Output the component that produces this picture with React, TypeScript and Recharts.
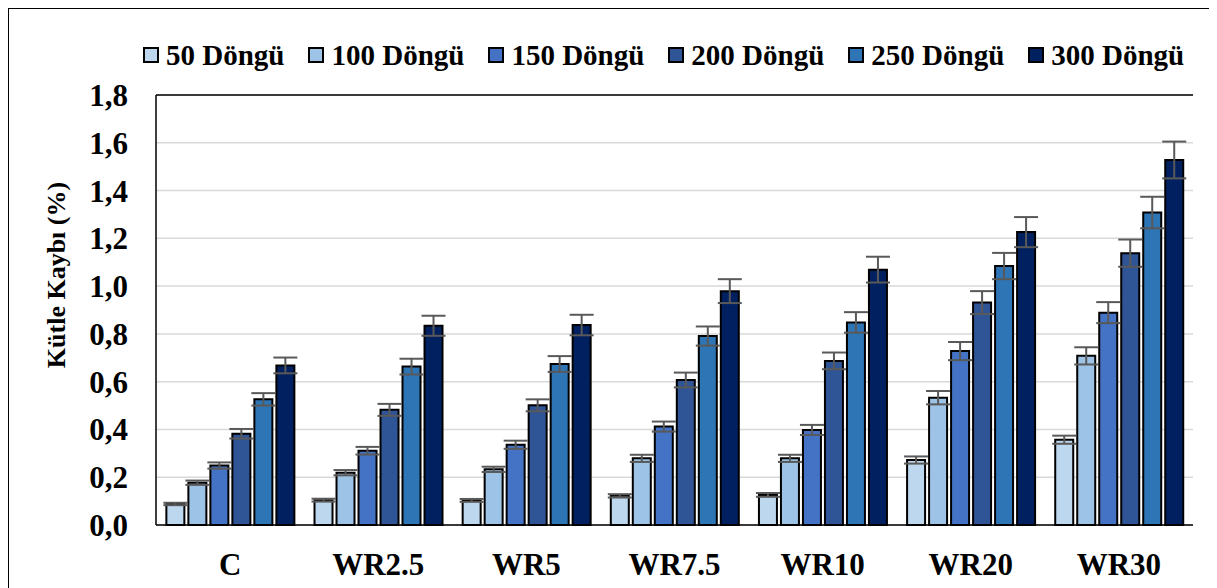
import React from 'react';
import { BarChart, Bar, XAxis, YAxis, CartesianGrid, ErrorBar, Label, ReferenceLine } from 'recharts';

const categories = ['C', 'WR2.5', 'WR5', 'WR7.5', 'WR10', 'WR20', 'WR30'];
const seriesNames = ['50 Döngü', '100 Döngü', '150 Döngü', '200 Döngü', '250 Döngü', '300 Döngü'];
const seriesColors = ['#BDD7EE', '#9DC3E6', '#4472C4', '#2F5597', '#2E75B6', '#002060'];

const d50 = [0.088, 0.104, 0.103, 0.122, 0.126, 0.272, 0.357];
const d100 = [0.177, 0.219, 0.233, 0.279, 0.279, 0.533, 0.708];
const d150 = [0.249, 0.311, 0.336, 0.412, 0.398, 0.728, 0.889];
const d200 = [0.382, 0.482, 0.501, 0.607, 0.687, 0.931, 1.138];
const d250 = [0.526, 0.663, 0.674, 0.791, 0.848, 1.084, 1.308];
const d300 = [0.668, 0.834, 0.837, 0.979, 1.069, 1.226, 1.528];

const e50 = [0.005, 0.006, 0.006, 0.007, 0.008, 0.015, 0.017];
const e100 = [0.009, 0.011, 0.011, 0.015, 0.015, 0.028, 0.036];
const e150 = [0.013, 0.016, 0.017, 0.021, 0.021, 0.038, 0.044];
const e200 = [0.02, 0.025, 0.025, 0.031, 0.035, 0.048, 0.057];
const e250 = [0.026, 0.033, 0.033, 0.04, 0.043, 0.055, 0.066];
const e300 = [0.033, 0.042, 0.043, 0.05, 0.054, 0.063, 0.077];

const yTicks = [0, 0.2, 0.4, 0.6, 0.8, 1.0, 1.2, 1.4, 1.6, 1.8];

const values = [d50, d100, d150, d200, d250, d300];
const errors = [e50, e100, e150, e200, e250, e300];

const data = categories.map((name, i) => {
  const row: Record<string, any> = { name };
  values.forEach((arr, s) => {
    row['s' + s] = arr[i];
    row['e' + s] = errors[s][i];
  });
  return row;
});

const FONT = '"Liberation Serif", "Times New Roman", serif';

export default function App() {
  return (
    <div style={{ position: 'relative', width: 1209, height: 580, fontFamily: FONT }}>
      <BarChart
        width={1209}
        height={580}
        data={data}
        margin={{ top: 87, right: 24, left: 0, bottom: 0 }}
        barCategoryGap="7%"
        barGap={4}
      >
        <CartesianGrid vertical={false} stroke="#d9d9d9" strokeWidth={1.5} />
        <XAxis
          dataKey="name"
          height={63}
          interval={0}
          tickLine={false}
          tickMargin={22}
          axisLine={{ stroke: '#000', strokeWidth: 1.5 }}
          tick={{ fontSize: 31, fontWeight: 'bold', fill: '#000', fontFamily: FONT }}
        />
        <YAxis
          domain={[0, 1.8]}
          ticks={yTicks}
          width={148}
          interval={0}
          tickLine={false}
          tickMargin={22}
          axisLine={{ stroke: '#000', strokeWidth: 1.5 }}
          tickFormatter={(v: number) => v.toFixed(1).replace('.', ',')}
          tick={{ fontSize: 31, fontWeight: 'bold', fill: '#000', fontFamily: FONT }}
        >
          <Label
            content={() => (
              <text
                x={48}
                y={267}
                transform="rotate(-90, 48, 267)"
                textAnchor="middle"
                dominantBaseline="central"
                fontSize={26}
                fontWeight="bold"
                fontFamily={FONT}
                fill="#000"
              >
                Kütle Kaybı (%)
              </text>
            )}
          />
        </YAxis>
        <YAxis
          yAxisId="right"
          orientation="right"
          domain={[0, 1.8]}
          width={0}
          tick={false}
          tickLine={false}
          axisLine={{ stroke: '#000', strokeWidth: 1.5 }}
        />
        <ReferenceLine y={1.8} stroke="#000" strokeWidth={1.5} />
        {seriesNames.map((n, s) => (
          <Bar
            key={n}
            dataKey={'s' + s}
            name={n}
            fill={seriesColors[s]}
            stroke="#000"
            strokeWidth={2}
            isAnimationActive={false}
          >
            <ErrorBar dataKey={'e' + s} width={12} strokeWidth={2} stroke="#595959" direction="y" />
          </Bar>
        ))}
      </BarChart>
      <div
        style={{
          position: 'absolute',
          top: 30,
          left: 135,
          display: 'flex',
          alignItems: 'center',
          gap: 24,
          height: 34,
        }}
      >
        {seriesNames.map((n, s) => (
          <div key={n} style={{ display: 'flex', alignItems: 'center' }}>
            <div
              style={{
                width: 12,
                height: 12,
                background: seriesColors[s],
                border: '2px solid #000',
                marginRight: 7,
              }}
            />
            <span style={{ fontSize: 29, fontWeight: 'bold', color: '#000', lineHeight: '34px' }}>{n}</span>
          </div>
        ))}
      </div>
      <div
        style={{
          position: 'absolute',
          top: 0,
          left: 0,
          width: 1209,
          height: 580,
          boxSizing: 'border-box',
          borderTop: '1.5px solid #000',
          borderLeft: '1.5px solid #000',
          pointerEvents: 'none',
        }}
      />
    </div>
  );
}
